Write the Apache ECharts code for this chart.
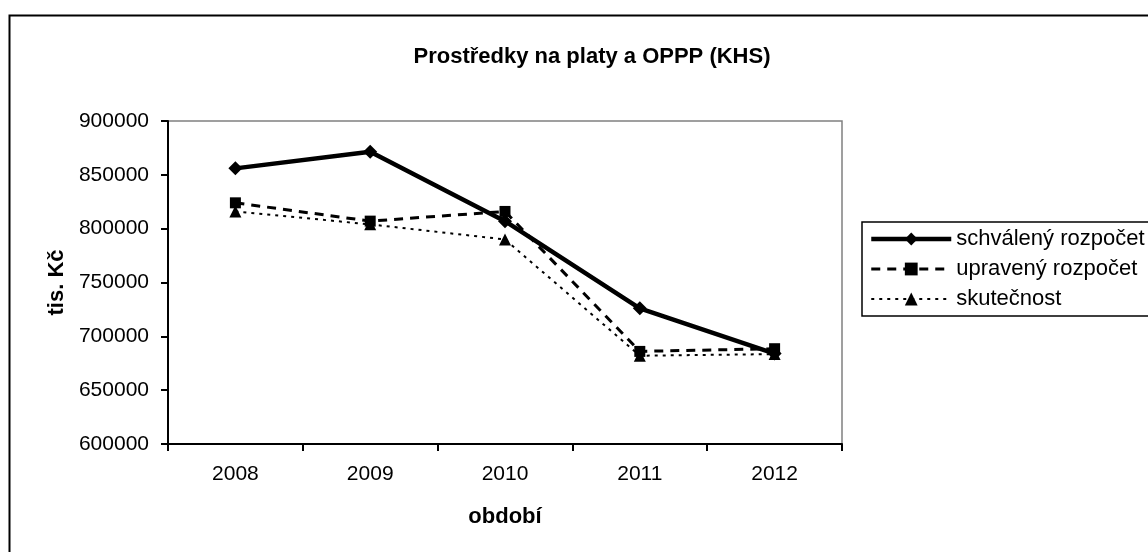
<!DOCTYPE html>
<html>
<head>
<meta charset="utf-8">
<script src="https://cdn.jsdelivr.net/npm/echarts@6/dist/echarts.min.js"></script>
<style>
html,body{margin:0;padding:0;background:#fff;}
#chart{width:1148px;height:552px;}
</style>
</head>
<body>
<div id="chart"></div>
<script>
var title = 'Prostředky na platy a OPPP (KHS)';
var categories = ['2008', '2009', '2010', '2011', '2012'];
var seriesNames = ['schválený rozpočet', 'upravený rozpočet', 'skutečnost'];
var schvaleny = [856000, 871500, 807000, 726000, 684000];
var upraveny = [824000, 807000, 816000, 686000, 688500];
var skutecnost = [816000, 804000, 790000, 682000, 683500];
var yTicks = [600000, 650000, 700000, 750000, 800000, 850000, 900000];

var font = 'Arial, "Liberation Sans", sans-serif';
var lineWidths = [4.5, 3, 2];
var lineTypes = ['solid', [9, 7], [3, 5]];
var symbols = ['diamond', 'rect', 'triangle'];
var symbolSizes = [14, 11, 12];

var chart = echarts.init(document.getElementById('chart'));
chart.setOption({
  animation: false,
  backgroundColor: '#fff',
  textStyle: { fontFamily: font },
  title: {
    text: title,
    left: 587, top: 41, textAlign: 'center',
    textStyle: { fontFamily: font, fontSize: 22, fontWeight: 'bold', color: '#000' }
  },
  graphic: [{
    type: 'rect', z: -1, silent: true,
    shape: { x: 9.5, y: 15.5, width: 1200, height: 600 },
    style: { fill: 'none', stroke: '#000', lineWidth: 2 }
  }],
  legend: {
    orient: 'vertical',
    left: 862, top: 222,
    padding: [6, 60, 6, 7],
    itemGap: 8,
    itemWidth: 80, itemHeight: 16,
    borderColor: '#000', borderWidth: 1.5,
    backgroundColor: '#fff',
    textStyle: { fontFamily: font, fontSize: 22, color: '#000', padding: [0, 0, 0, 0] },
    data: seriesNames.map(function (n, i) {
      return { name: n, lineStyle: { color: '#000', width: lineWidths[i], type: lineTypes[i] } };
    })
  },
  grid: {
    left: 168, top: 121, right: 306, bottom: 108,
    show: true, borderColor: '#808080', borderWidth: 1.5, backgroundColor: '#fff'
  },
  xAxis: {
    type: 'category',
    data: categories,
    boundaryGap: true,
    name: 'období',
    nameLocation: 'middle',
    nameGap: 62,
    nameTextStyle: { fontFamily: font, fontSize: 22, fontWeight: 'bold', color: '#000' },
    axisLine: { lineStyle: { color: '#000', width: 2 } },
    axisTick: { show: true, inside: false, length: 7, lineStyle: { color: '#000', width: 2 } },
    axisLabel: { fontFamily: font, fontSize: 21, color: '#000', margin: 20 },
    splitLine: { show: false }
  },
  yAxis: {
    type: 'value',
    min: 600000, max: 900000, interval: 50000,
    name: 'tis. Kč',
    nameLocation: 'middle',
    nameRotate: 90,
    nameGap: 98,
    nameTextStyle: { fontFamily: font, fontSize: 22, fontWeight: 'bold', color: '#000' },
    axisLine: { show: true, lineStyle: { color: '#000', width: 2 } },
    axisTick: { show: true, inside: false, length: 7, lineStyle: { color: '#000', width: 2 } },
    axisLabel: {
      fontFamily: font, fontSize: 21, color: '#000', margin: 19,
      formatter: function (v) { return yTicks.indexOf(v) >= 0 ? String(v) : ''; }
    },
    splitLine: { show: false }
  },
  series: [schvaleny, upraveny, skutecnost].map(function (d, i) {
    return {
      name: seriesNames[i], type: 'line', data: d,
      symbol: symbols[i], symbolSize: symbolSizes[i],
      lineStyle: { color: '#000', width: lineWidths[i], type: lineTypes[i] },
      itemStyle: { color: '#000', borderWidth: 0 }
    };
  })
});
</script>
</body>
</html>
